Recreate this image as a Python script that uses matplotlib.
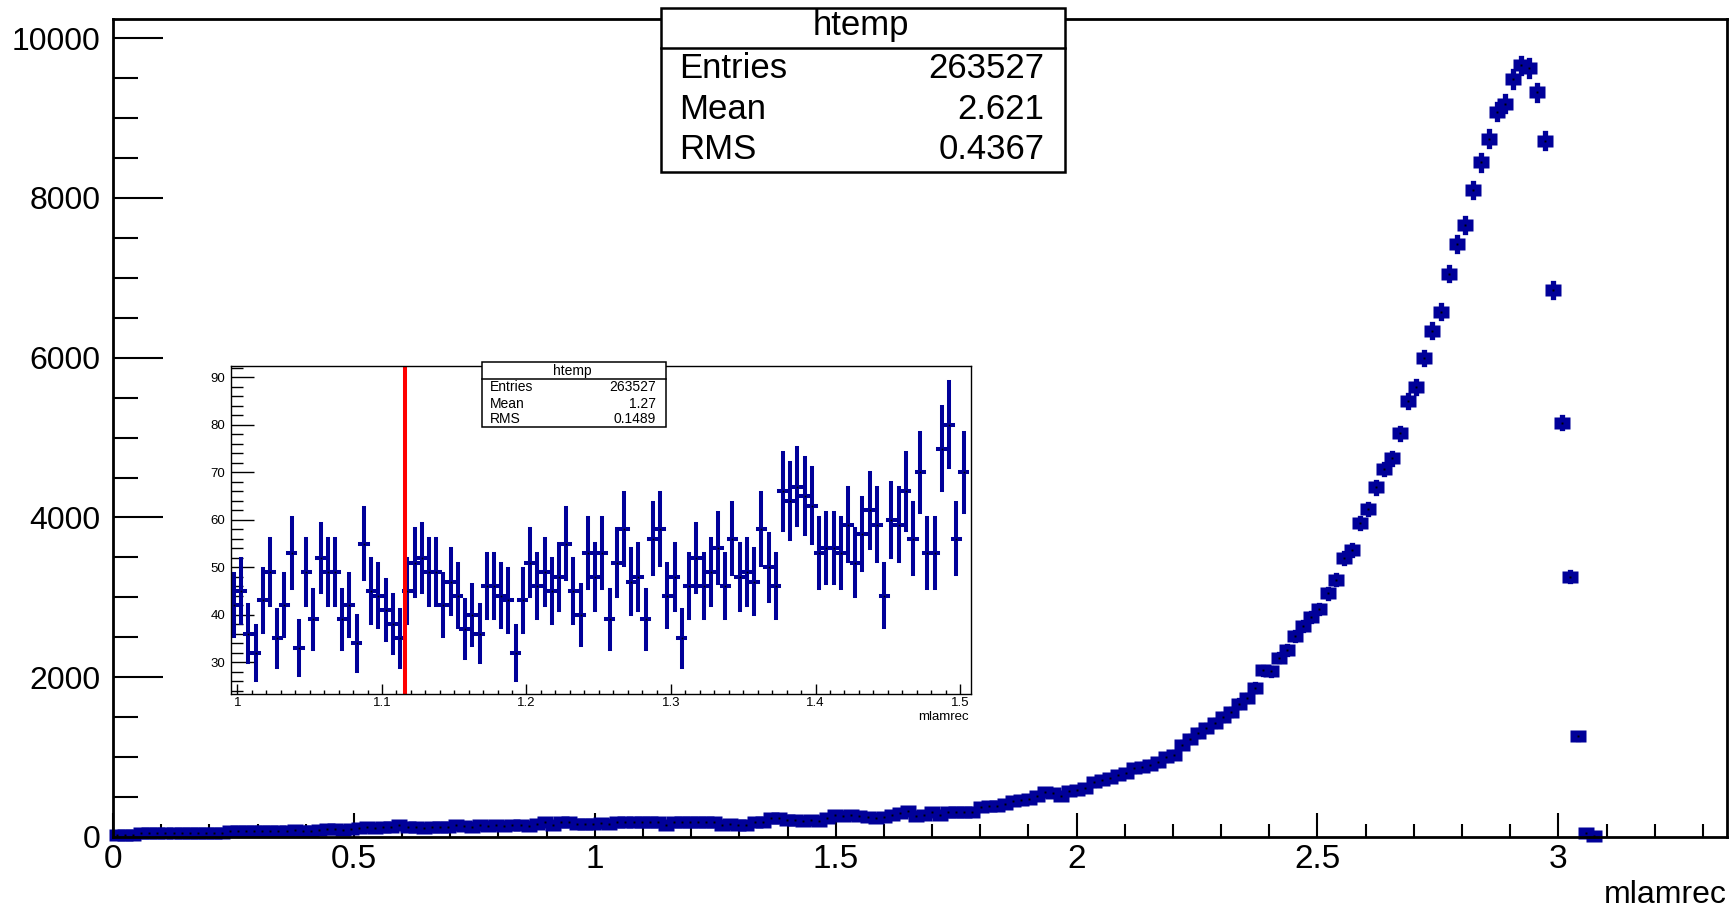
import numpy as np
import matplotlib.pyplot as plt
from matplotlib.patches import Rectangle
from matplotlib.ticker import MultipleLocator, FuncFormatter

plt.rcParams['font.family'] = ['Liberation Sans', 'DejaVu Sans']

# main histogram of mlamrec: 200 bins on [0, 3.35], bins above 183 are empty
hist_range = (0.0, 3.35)
n_bins = 200
counts = [
    22, 28, 30, 48, 52, 47, 55, 50, 46, 53, 51, 49, 56, 52,
    70, 78, 74, 81, 76, 72, 80, 77, 83, 75, 79, 86,
    100, 104, 92, 98, 118, 122, 115, 125, 121, 145,
    120, 126, 118, 124, 129, 122, 145, 142, 131,
    146, 140, 148, 143, 150, 144, 138, 160, 183, 154,
    183, 188, 165, 168, 162, 170, 166,
    188, 184, 190, 186, 192, 185, 152,
    188, 191, 185, 190, 187, 186, 154, 158, 152, 156,
    190, 186, 238, 232, 208, 212, 205, 210, 206, 238,
    275, 268, 272, 262, 245, 240, 248, 275, 300, 320,
    265, 275, 308, 280, 313, 315, 312, 318, 375, 383,
    383, 417, 446, 467, 475, 508, 558, 550, 508, 579,
    592, 613, 683, 717, 738, 779, 800, 860, 880, 905,
    935, 1000, 1030, 1155, 1226, 1301, 1364, 1426, 1500, 1562,
    1668, 1739, 1870, 2085, 2075, 2247, 2343, 2510, 2643, 2752,
    2856, 3053, 3219, 3494, 3594, 3936, 4103, 4378, 4607, 4740,
    5054, 5458, 5630, 6000, 6338, 6575, 7051, 7422, 7660, 8098,
    8444, 8744, 9082, 9182, 9490, 9658, 9624, 9320, 8715, 6847,
    5187, 3260, 1259, 55, 8,
]

# zoomed histogram: 0.005 wide bins starting at 0.995
zoom_start = 0.995
zoom_width = 0.005
zoom_counts = [
    42, 45, 36, 32, 43, 49, 35, 42, 53, 33,
    49, 39, 52, 49, 49, 39, 42, 34, 55, 45,
    44, 41, 38, 35, 45, 51, 52, 49, 49, 42,
    47, 44, 37, 40, 36, 46, 46, 44, 43, 32,
    43, 51, 46, 49, 45, 48, 55, 45, 40, 53,
    48, 53, 39, 51, 58, 47, 48, 39, 56, 58,
    44, 48, 35, 46, 52, 46, 49, 54, 46, 56,
    48, 49, 47, 58, 50, 46, 66, 64, 67, 65,
    63, 53, 54, 54, 53, 59, 51, 57, 62, 59,
    44, 60, 59, 66, 56, 70, 53, 53, 75, 80,
    56, 70,
]
lambda_mass = 1.1157

stat_names = ['Entries', 'Mean', 'RMS']
main_stats = ['263527', '2.621', '0.4367']
zoom_stats = ['263527', '1.27', '0.1489']

navy = '#000099'
W, H = 1735, 910
fig = plt.figure(figsize=(W / 100, H / 100), dpi=100)


def rect(x0, y0, x1, y1):
    # pixel box (left, top, right, bottom) -> figure fraction
    return [x0 / W, 1 - y1 / H, (x1 - x0) / W, (y1 - y0) / H]


def fx(x):
    return x / W


def fy(y):
    return 1 - y / H


fmt = FuncFormatter(lambda v, p: '%g' % round(v, 6))

# ---- main pad
ax = fig.add_axes(rect(113, 19, 1727, 837))
edges = np.linspace(hist_range[0], hist_range[1], n_bins + 1)
y = np.array(counts, float)
xc = 0.5 * (edges[:-1] + edges[1:])[:len(y)]
err = np.sqrt(y)

vl = ax.vlines(xc, y - err, y + err, color=navy, lw=3.8, clip_on=False)
vl.set_capstyle('projecting')
blob = [(-1, -0.75), (1, -0.75), (1, 0.75), (-1, 0.75), (-1, -0.75)]
ax.plot(xc, y, ls='none', marker=blob, ms=12, mfc=navy, mec='none', clip_on=False)
ax.plot(xc, y, ls='none', marker='s', ms=1.4, mfc='black', mec='none', clip_on=False)

ax.set_xlim(hist_range)
ax.set_ylim(0, 10240)
ax.xaxis.set_major_locator(MultipleLocator(0.5))
ax.xaxis.set_minor_locator(MultipleLocator(0.1))
ax.yaxis.set_major_locator(MultipleLocator(2000))
ax.yaxis.set_minor_locator(MultipleLocator(500))
ax.xaxis.set_major_formatter(fmt)
ax.tick_params(which='both', direction='in', top=False, right=False, width=1.5, labelsize=23)
ax.tick_params(axis='y', which='major', length=36, pad=9)
ax.tick_params(axis='y', which='minor', length=18)
ax.tick_params(axis='x', which='major', length=17.3, pad=5)
ax.tick_params(axis='x', which='minor', length=9.4)
ax.tick_params(axis='x', labelsize=24)
for s in ax.spines.values():
    s.set_linewidth(2)
fig.text(fx(1727), fy(895), 'mlamrec', ha='right', va='center', fontsize=23)

# ---- main stat box
fig.add_artist(Rectangle((fx(660.5), fy(171.7)), (1065 - 660.5) / W, (171.7 - 8) / H,
                         transform=fig.transFigure, facecolor='white', edgecolor='black',
                         lw=1.8, zorder=5))
fig.add_artist(plt.Line2D([fx(660.5), fx(1065)], [fy(47.7), fy(47.7)],
                          transform=fig.transFigure, color='black', lw=1.8, zorder=6))
fig.text(fx(861), fy(26), 'htemp', ha='center', va='center', fontsize=25, zorder=7)
for name, val, yy in zip(stat_names, main_stats, [68.6, 109.5, 149.4]):
    fig.text(fx(679), fy(yy), name, ha='left', va='center', fontsize=25, zorder=7)
    fig.text(fx(1044.6), fy(yy), val, ha='right', va='center', fontsize=25, zorder=7)

# ---- inset pad
ai = fig.add_axes(rect(230.7, 366, 970.7, 694))
ai.set_facecolor('white')
zy = np.array(zoom_counts, float)
zc = zoom_start + zoom_width * (np.arange(len(zy)) + 0.5)
zerr = np.sqrt(zy)
v2 = ai.vlines(zc, zy - zerr, zy + zerr, color=navy, lw=2.9)
v2.set_capstyle('projecting')
h2 = ai.hlines(zy, zc - zoom_width / 2, zc + zoom_width / 2, color=navy, lw=2.9)
h2.set_capstyle('projecting')
ai.plot(zc, zy, ls='none', marker='s', ms=1.2, mfc='black', mec='none')
ai.axvline(lambda_mass, color='red', lw=2.9)

ai.set_xlim(0.9953, 1.5074)
ai.set_ylim(23.3, 92.4)
ai.xaxis.set_major_locator(MultipleLocator(0.1))
ai.xaxis.set_minor_locator(MultipleLocator(0.01))
ai.yaxis.set_major_locator(MultipleLocator(10))
ai.yaxis.set_minor_locator(MultipleLocator(2))
ai.xaxis.set_major_formatter(fmt)
ai.tick_params(which='both', direction='in', top=False, right=False, width=1.0, labelsize=9.5)
ai.tick_params(axis='y', which='major', length=16.3, pad=4)
ai.tick_params(axis='y', which='minor', length=8.6)
ai.tick_params(axis='x', which='major', length=7, pad=2)
ai.tick_params(axis='x', which='minor', length=3)
for s in ai.spines.values():
    s.set_linewidth(1.0)
fig.text(fx(969), fy(717), 'mlamrec', ha='right', va='center', fontsize=9.5)

# ---- inset stat box
fig.add_artist(Rectangle((fx(481.7), fy(427)), (666 - 481.7) / W, (427 - 361.7) / H,
                         transform=fig.transFigure, facecolor='white', edgecolor='black',
                         lw=1.1, zorder=5))
fig.add_artist(plt.Line2D([fx(481.7), fx(666)], [fy(379), fy(379)],
                          transform=fig.transFigure, color='black', lw=1.1, zorder=6))
fig.text(fx(572), fy(370.5), 'htemp', ha='center', va='center', fontsize=10, zorder=7)
for name, val, yy in zip(stat_names, zoom_stats, [387.3, 403.9, 419.4]):
    fig.text(fx(490), fy(yy), name, ha='left', va='center', fontsize=10, zorder=7)
    fig.text(fx(656), fy(yy), val, ha='right', va='center', fontsize=10, zorder=7)

fig.savefig('out.png', dpi=100, facecolor='white')
